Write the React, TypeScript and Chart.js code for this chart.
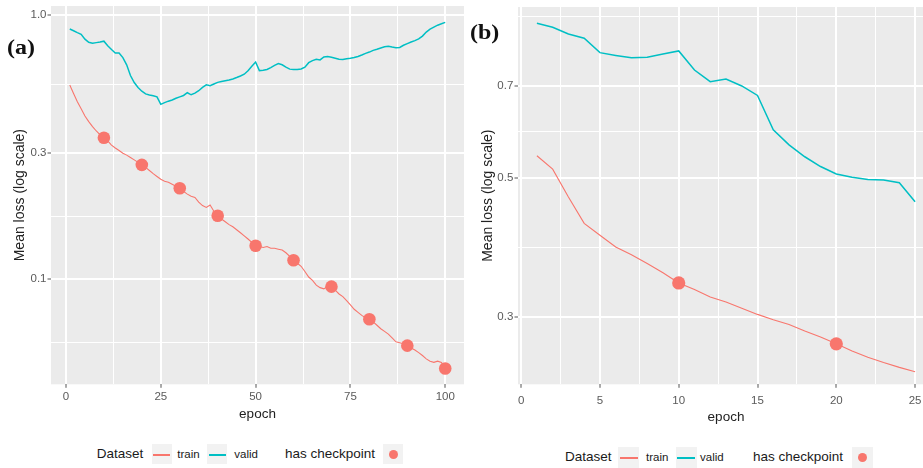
import React, { useEffect, useRef } from 'react';
import { Chart, registerables } from 'chart.js';

Chart.register(...registerables);

// ---------------- data ----------------
const epochsA = Array.from({ length: 100 }, (_, i) => i + 1);
const trainA = [
  0.543, 0.505, 0.470, 0.442, 0.415, 0.395, 0.378, 0.364, 0.352, 0.343,
  0.334, 0.322, 0.314, 0.307, 0.300, 0.295, 0.289, 0.283, 0.277, 0.271,
  0.265, 0.258, 0.251, 0.245, 0.239, 0.235, 0.233, 0.229, 0.225, 0.221,
  0.215, 0.210, 0.206, 0.204, 0.196, 0.190, 0.187, 0.191, 0.181, 0.174,
  0.169, 0.165, 0.161, 0.158, 0.154, 0.150, 0.146, 0.142, 0.138, 0.134,
  0.133, 0.132, 0.133, 0.131, 0.131, 0.130, 0.129, 0.126, 0.122, 0.118,
  0.115, 0.112, 0.107, 0.102, 0.099, 0.095, 0.093, 0.092, 0.094, 0.0938,
  0.091, 0.088, 0.086, 0.083, 0.080, 0.077, 0.075, 0.073, 0.0715, 0.0706,
  0.069, 0.067, 0.065, 0.0635, 0.062, 0.060, 0.058, 0.0575, 0.057, 0.0561,
  0.055, 0.054, 0.0528, 0.0515, 0.050, 0.049, 0.0485, 0.049, 0.0485, 0.046,
];
const validA = [
  0.885, 0.872, 0.858, 0.845, 0.810, 0.788, 0.782, 0.786, 0.790, 0.796,
  0.765, 0.740, 0.718, 0.718, 0.690, 0.648, 0.590, 0.555, 0.532, 0.515,
  0.503, 0.498, 0.495, 0.490, 0.459, 0.466, 0.472, 0.477, 0.484, 0.490,
  0.496, 0.508, 0.499, 0.506, 0.517, 0.532, 0.544, 0.540, 0.548, 0.556,
  0.560, 0.564, 0.568, 0.573, 0.580, 0.588, 0.597, 0.615, 0.640, 0.664,
  0.616, 0.618, 0.622, 0.632, 0.645, 0.655, 0.648, 0.635, 0.624, 0.622,
  0.622, 0.625, 0.635, 0.660, 0.672, 0.680, 0.676, 0.694, 0.696, 0.692,
  0.686, 0.680, 0.678, 0.683, 0.686, 0.690, 0.697, 0.706, 0.716, 0.724,
  0.735, 0.742, 0.750, 0.758, 0.762, 0.756, 0.752, 0.754, 0.768, 0.779,
  0.790, 0.800, 0.812, 0.832, 0.862, 0.884, 0.900, 0.915, 0.926, 0.938,
];
const checkpointEpochsA = [10, 20, 30, 40, 50, 60, 70, 80, 90, 100];

const epochsB = Array.from({ length: 25 }, (_, i) => i + 1);
const trainB = [
  0.542, 0.516, 0.466, 0.423, 0.405, 0.388, 0.377, 0.365, 0.353, 0.340,
  0.332, 0.323, 0.317, 0.310, 0.303, 0.297, 0.292, 0.285, 0.279, 0.272,
  0.265, 0.259, 0.254, 0.2495, 0.2455,
];
const validB = [
  0.881, 0.868, 0.847, 0.834, 0.791, 0.783, 0.776, 0.778, 0.787, 0.796,
  0.742, 0.711, 0.718, 0.700, 0.676, 0.596, 0.564, 0.540, 0.521, 0.507,
  0.501, 0.497, 0.496, 0.491, 0.458,
];
const checkpointEpochsB = [10, 20];

// tick values / labels
const xMajorA = [0, 25, 50, 75, 100];
const xMinorA = [12.5, 37.5, 62.5, 87.5];
const yMajorA = [0.1, 0.3, 1.0];
const yMajorLabelsA = ['0.1', '0.3', '1.0'];
const yMinorA = [0.0577, 0.1732, 0.5477];

const xMajorB = [0, 5, 10, 15, 20, 25];
const xMinorB = [2.5, 7.5, 12.5, 17.5, 22.5];
const yMajorB = [0.3, 0.5, 0.7];
const yMajorLabelsB = ['0.3', '0.5', '0.7'];
const yMinorB = [0.3873, 0.5916, 0.9036];

const datasetLabels = ['train', 'valid'];
const legendTitle = 'Dataset';
const checkpointLabel = 'has checkpoint';
const panelLabels = ['(a)', '(b)'];
const xTitle = 'epoch';
const yTitle = 'Mean loss (log scale)';

// ---------------- style ----------------
const FONT = '"Liberation Sans", Arial, sans-serif';
const TRAIN_COLOR = '#F8766D';
const VALID_COLOR = '#00BFC4';
const PANEL_BG = '#EBEBEB';

const bgPlugin = {
  id: 'panelBg',
  beforeDraw(chart: any) {
    const { ctx, chartArea: a } = chart;
    ctx.save();
    ctx.fillStyle = PANEL_BG;
    ctx.fillRect(a.left, a.top, a.right - a.left, a.bottom - a.top);
    ctx.restore();
  },
};

const near = (list: number[], v: number) => list.findIndex((m) => Math.abs(m - v) < 1e-9);

function buildChart(canvas: HTMLCanvasElement, s: any) {
  const trainPts = s.epochs.map((e: number, i: number) => ({ x: e, y: s.train[i] }));
  const validPts = s.epochs.map((e: number, i: number) => ({ x: e, y: s.valid[i] }));
  const cpPts = s.checkpoints.map((e: number) => ({ x: e, y: s.train[s.epochs.indexOf(e)] }));

  const gridWidth = (majors: number[]) => (ctx: any) =>
    ctx.tick && near(majors, ctx.tick.value) >= 0 ? 2 : 1;
  const tickColor = (majors: number[]) => (ctx: any) =>
    ctx.tick && near(majors, ctx.tick.value) >= 0 ? '#555555' : 'rgba(0,0,0,0)';

  return new Chart(canvas, {
    type: 'line',
    data: {
      datasets: [
        {
          label: checkpointLabel,
          data: cpPts,
          showLine: false,
          pointRadius: s.dotRadius,
          pointHoverRadius: s.dotRadius,
          pointBackgroundColor: TRAIN_COLOR,
          pointBorderWidth: 0,
          borderColor: TRAIN_COLOR,
        },
        {
          label: datasetLabels[0],
          data: trainPts,
          borderColor: TRAIN_COLOR,
          borderWidth: 1.1,
          pointRadius: 0,
          tension: 0,
          fill: false,
        },
        {
          label: datasetLabels[1],
          data: validPts,
          borderColor: VALID_COLOR,
          borderWidth: 1.5,
          pointRadius: 0,
          tension: 0,
          fill: false,
        },
      ],
    },
    options: {
      animation: false,
      responsive: false,
      devicePixelRatio: 1,
      events: [],
      layout: { autoPadding: false, padding: { top: s.padTop, right: 0, left: 0, bottom: 0 } },
      plugins: { legend: { display: false }, tooltip: { enabled: false } },
      scales: {
        x: {
          type: 'linear',
          min: s.xMin,
          max: s.xMax,
          afterBuildTicks: (sc: any) => {
            sc.ticks = [...s.xMajor, ...s.xMinor].sort((a, b) => a - b).map((v) => ({ value: v }));
          },
          afterFit: (sc: any) => {
            sc.height = s.xAxisHeight;
            sc.paddingLeft = 0;
            sc.paddingRight = 0;
          },
          ticks: {
            autoSkip: false,
            maxRotation: 0,
            minRotation: 0,
            padding: s.xTickPad,
            color: '#5a5a5a',
            font: { family: FONT, size: 11.5 },
            callback: (v: any) => (near(s.xMajor, Number(v)) >= 0 ? String(v) : ''),
          },
          grid: {
            color: '#FFFFFF',
            lineWidth: gridWidth(s.xMajor),
            tickLength: 3.5,
            tickWidth: 1,
            tickColor: tickColor(s.xMajor),
            drawTicks: true,
            drawOnChartArea: true,
          },
          border: { display: false },
          title: {
            display: true,
            text: xTitle,
            color: '#222222',
            font: { family: FONT, size: 13.5 },
            padding: { top: 0, bottom: s.xTitlePad },
          },
        },
        y: {
          type: 'logarithmic',
          min: s.yMin,
          max: s.yMax,
          afterBuildTicks: (sc: any) => {
            sc.ticks = [...s.yMajor, ...s.yMinor].sort((a, b) => a - b).map((v) => ({ value: v }));
          },
          afterFit: (sc: any) => {
            sc.width = s.yAxisWidth;
            sc.paddingTop = 0;
            sc.paddingBottom = 0;
          },
          ticks: {
            autoSkip: false,
            padding: s.yTickPad,
            color: '#5a5a5a',
            font: { family: FONT, size: 11.5 },
            callback: (v: any) => {
              const i = near(s.yMajor, Number(v));
              return i >= 0 ? s.yLabels[i] : '';
            },
          },
          grid: {
            color: '#FFFFFF',
            lineWidth: gridWidth(s.yMajor),
            tickLength: 3.5,
            tickWidth: 1,
            tickColor: tickColor(s.yMajor),
            drawTicks: true,
            drawOnChartArea: true,
          },
          border: { display: false },
          title: {
            display: true,
            text: yTitle,
            color: '#222222',
            font: { family: FONT, size: 14 },
            padding: { top: s.yTitlePad, bottom: 0 },
          },
        },
      },
    },
    plugins: [bgPlugin],
  } as any);
}

const specA = {
  epochs: epochsA, train: trainA, valid: validA, checkpoints: checkpointEpochsA,
  xMajor: xMajorA, xMinor: xMinorA, yMajor: yMajorA, yMinor: yMinorA, yLabels: yMajorLabelsA,
  xMin: -3.95, xMax: 104.95, yMin: 0.04006, yMax: 1.0815,
  padTop: 6, xAxisHeight: 45.7, yAxisWidth: 51,
  xTickPad: 2.6, yTickPad: 1, xTitlePad: 7.9, yTitlePad: 11.6, dotRadius: 6.3,
};

const specB = {
  epochs: epochsB, train: trainB, valid: validB, checkpoints: checkpointEpochsB,
  xMajor: xMajorB, xMinor: xMinorB, yMajor: yMajorB, yMinor: yMinorB, yLabels: yMajorLabelsB,
  xMin: -0.2, xMax: 26.2, yMin: 0.2345, yMax: 0.935,
  padTop: 7, xAxisHeight: 45.7, yAxisWidth: 54,
  xTickPad: 6, yTickPad: 1.2, xTitlePad: 4.4, yTitlePad: 16.1, dotRadius: 6.6,
};

// ---------------- legend ----------------
function Txt({ x, cy, size, children }: any) {
  return (
    <div
      style={{
        position: 'absolute', left: x, top: cy - 10, height: 20, lineHeight: '20px',
        fontSize: size, whiteSpace: 'nowrap', color: '#1a1a1a', fontFamily: FONT,
      }}
    >
      {children}
    </div>
  );
}

function Key({ x, cy, w, h, color, dot }: any) {
  const top = Math.round(cy - h / 2);
  return (
    <div style={{ position: 'absolute', left: x, top, width: w, height: h, background: '#F2F2F2' }}>
      {dot ? (
        <div
          style={{
            position: 'absolute', left: w / 2 - 4.5, top: h / 2 - 4.5, width: 9, height: 9,
            borderRadius: '50%', background: color,
          }}
        />
      ) : (
        <div style={{ position: 'absolute', left: 1.5, right: 1.5, top: Math.floor(h / 2), height: 1.5, background: color }} />
      )}
    </div>
  );
}

function Legend({ L }: any) {
  return (
    <>
      <Txt x={L.title} cy={L.cy} size={13.5}>{legendTitle}</Txt>
      <Key x={L.keys[0]} cy={L.cy} w={L.kw} h={L.kw} color={TRAIN_COLOR} />
      <Txt x={L.labels[0]} cy={L.cy} size={11.5}>{datasetLabels[0]}</Txt>
      <Key x={L.keys[1]} cy={L.cy} w={L.kw} h={L.kw} color={VALID_COLOR} />
      <Txt x={L.labels[1]} cy={L.cy} size={11.5}>{datasetLabels[1]}</Txt>
      <Txt x={L.cpTitle} cy={L.cy} size={13.5}>{checkpointLabel}</Txt>
      <Key x={L.cpKey} cy={L.cy} w={L.kw} h={L.kw} color={TRAIN_COLOR} dot />
    </>
  );
}

const legendA = { cy: 453.5, title: 96.7, keys: [151.5, 207], labels: [177.3, 234.3], cpTitle: 285, cpKey: 383.3, kw: 20 };
const legendB = { cy: 457, title: 565, keys: [618, 675.5], labels: [646, 700], cpTitle: 753, cpKey: 852, kw: 21 };

export default function App() {
  const refA = useRef<HTMLCanvasElement>(null);
  const refB = useRef<HTMLCanvasElement>(null);

  useEffect(() => {
    const a = buildChart(refA.current as HTMLCanvasElement, specA);
    const b = buildChart(refB.current as HTMLCanvasElement, specB);
    return () => {
      a.destroy();
      b.destroy();
    };
  }, []);

  const panelStyle = (left: number, top: number): React.CSSProperties => ({
    position: 'absolute', left, top, fontFamily: '"Liberation Serif", "Times New Roman", serif',
    fontWeight: 'bold', fontSize: 20, lineHeight: '24px', color: '#111',
    transform: 'scaleX(1.2)', transformOrigin: 'left top', whiteSpace: 'nowrap',
  });

  return (
    <div
      style={{
        position: 'absolute', left: 0, top: 0, width: 923, height: 468,
        overflow: 'hidden', background: '#ffffff',
      }}
    >
      <canvas ref={refA} width={464} height={430} style={{ position: 'absolute', left: 0, top: 0, width: 464, height: 430 }} />
      <canvas ref={refB} width={470} height={430} style={{ position: 'absolute', left: 464, top: 0, width: 470, height: 430 }} />
      <div style={panelStyle(6.5, 34.8)}>{panelLabels[0]}</div>
      <div style={panelStyle(470, 19.6)}>{panelLabels[1]}</div>
      <Legend L={legendA} />
      <Legend L={legendB} />
    </div>
  );
}
